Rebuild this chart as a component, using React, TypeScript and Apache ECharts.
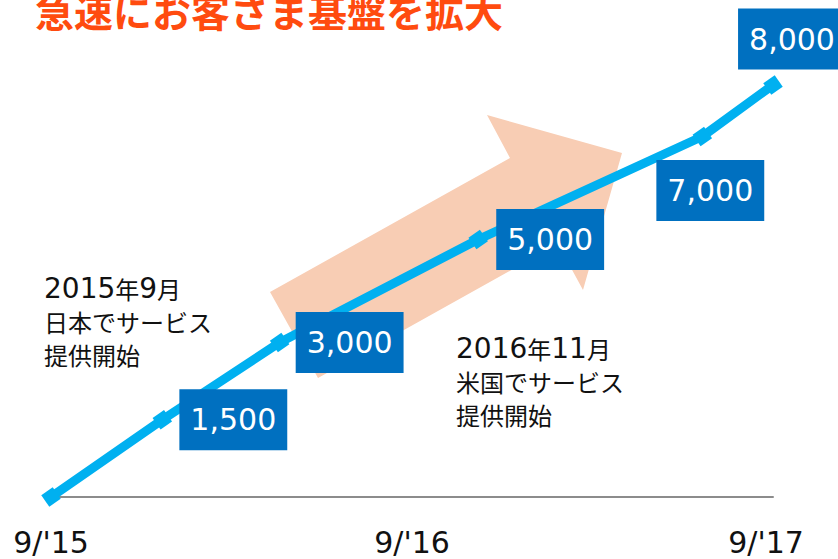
import React, { useEffect, useRef } from "react";
import * as echarts from "echarts";

// months since Sep 2015
const monthsSinceLaunch = [0, 3.7, 7.6, 14.2, 21.65, 24];
const customers = [0, 1500, 3000, 5000, 7000, 8000];
const showLabel = [false, true, true, true, true, true];
const tickLabels: Record<number, string> = { 0: "9/'15", 12: "9/'16", 24: "9/'17" };
const titleText = "急速にお客さま基盤を拡大";
const noteJapan = "2015年9月\n日本でサービス\n提供開始";
const noteUS = "2016年11月\n米国でサービス\n提供開始";

// label layout offsets (pixels) relative to each point
const labelOffsets: [number, number][] = [
  [0, 0],
  [71, 0],
  [70, 0],
  [72, 0],
  [8, 54],
  [19, -46],
];

const richDigits = (s: string) => s.replace(/(\d+)/g, "{d|$1}");

export default function App() {
  const ref = useRef<HTMLDivElement>(null);
  useEffect(() => {
    document.body.style.margin = "0";
    if (!ref.current) return;
    const chart = echarts.init(ref.current, undefined, { renderer: "svg" });
    const data = monthsSinceLaunch.map((m, i) => ({
      value: [m, customers[i]],
      label: {
        show: showLabel[i],
        offset: labelOffsets[i],
      },
    }));
    const noteStyle = {
      fill: "#111",
      fontSize: 24,
      lineHeight: 33,
      fontFamily: "Noto Sans CJK JP",
      verticalAlign: "top",
      rich: {
        d: {
          fontSize: 28,
          fontFamily: "DejaVu Sans",
          fill: "#111",
          lineHeight: 33,
        },
      },
    };
    chart.setOption({
      animation: false,
      grid: { left: 51, right: 65, top: 85, bottom: 62 },
      xAxis: {
        type: "value",
        min: 0,
        max: 24,
        interval: 12,
        splitLine: { show: false },
        axisTick: { show: false },
        axisLine: { show: true, lineStyle: { color: "#8c8c8c", width: 2 } },
        axisLabel: {
          margin: 30,
          fontSize: 30,
          fontFamily: "DejaVu Sans",
          color: "#111",
          formatter: (v: number) => {
            const t = tickLabels[v];
            if (!t) return "";
            if (v === 24) return "{r|" + t + "}";
            return t;
          },
          rich: {
            r: {
              fontSize: 30,
              fontFamily: "DejaVu Sans",
              color: "#111",
              padding: [0, 14, 0, 0],
            },
          },
        },
      },
      yAxis: {
        type: "value",
        min: 0,
        max: 8000,
        show: false,
        splitLine: { show: false },
      },
      graphic: [
        {
          type: "polygon",
          z: -10,
          shape: {
            points: [
              [270, 292],
              [510, 158],
              [487, 115],
              [622, 153],
              [583, 290],
              [558, 244],
              [318, 378],
            ],
          },
          style: { fill: "#F8CDB4" },
        },
        {
          type: "text",
          x: 35,
          y: 10,
          style: {
            text: titleText,
            fill: "#FF4B0F",
            fontSize: 39,
            fontWeight: "bold",
            fontFamily: "Noto Sans CJK JP",
            verticalAlign: "middle",
          },
        },
        {
          type: "text",
          x: 44,
          y: 272,
          style: { ...noteStyle, text: richDigits(noteJapan) },
        },
        {
          type: "text",
          x: 456,
          y: 332,
          style: { ...noteStyle, text: richDigits(noteUS) },
        },
      ],
      series: [
        {
          type: "line",
          data,
          clip: false,
          lineStyle: { color: "#00B0F0", width: 9 },
          itemStyle: { color: "#00B0F0" },
          symbol: "rect",
          symbolSize: 14,
          symbolRotate: 35,
          label: {
            show: true,
            position: "inside",
            align: "center",
            verticalAlign: "middle",
            formatter: (p: any) => Number(p.value[1]).toLocaleString("en-US"),
            backgroundColor: "#0070C0",
            color: "#fff",
            fontSize: 30,
            fontFamily: "DejaVu Sans",
            lineHeight: 36,
            padding: [13, 11, 12, 11],
          },
          z: 5,
        },
      ],
    });
    return () => chart.dispose();
  }, []);
  return <div ref={ref} style={{ width: 838, height: 559 }} />;
}
